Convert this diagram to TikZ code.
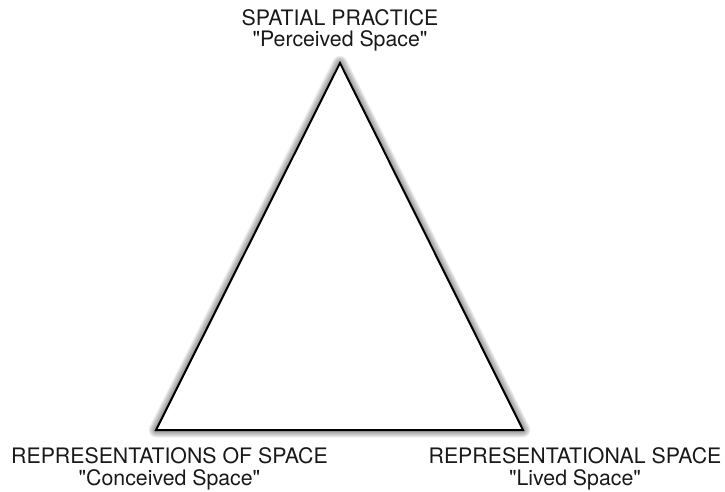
\documentclass[tikz,border=0pt]{standalone}
\usepackage{fontspec}
\setmainfont{TeX Gyre Heros}[Ligatures=TeXOff]
\tikzset{
  lbl/.style={align=center, inner sep=0pt, anchor=north,
    font=\fontsize{21.3pt}{21.5pt}\selectfont, text=black!90},
  tri/.style={draw=black, fill=white, line width=2pt, line join=miter},
  shad/.style={draw=black, line join=round, opacity=0.05}
}
\begin{document}
\begin{tikzpicture}[x=1pt, y=-1pt]
\useasboundingbox (0,0) rectangle (725,491);
\coordinate (top) at (340,63);
\coordinate (bl) at (156,430);
\coordinate (br) at (523,430);
\foreach \r in {1,...,10}{
  \draw[shad, line width=\r*1.5pt, yshift=-5pt] (top) -- (br) -- (bl) -- cycle;
}
\path[tri] (top) -- (br) -- (bl) -- cycle;
\node[lbl] (sp) at (340,9) {SPATIAL PRACTICE\\"Perceived Space"};
\node[lbl] (rs) at (169.5,447.5) {REPRESENTATIONS OF SPACE\\"Conceived Space"};
\node[lbl] (rl) at (575,447.5) {REPRESENTATIONAL SPACE\\"Lived Space"};
\end{tikzpicture}
\end{document}
